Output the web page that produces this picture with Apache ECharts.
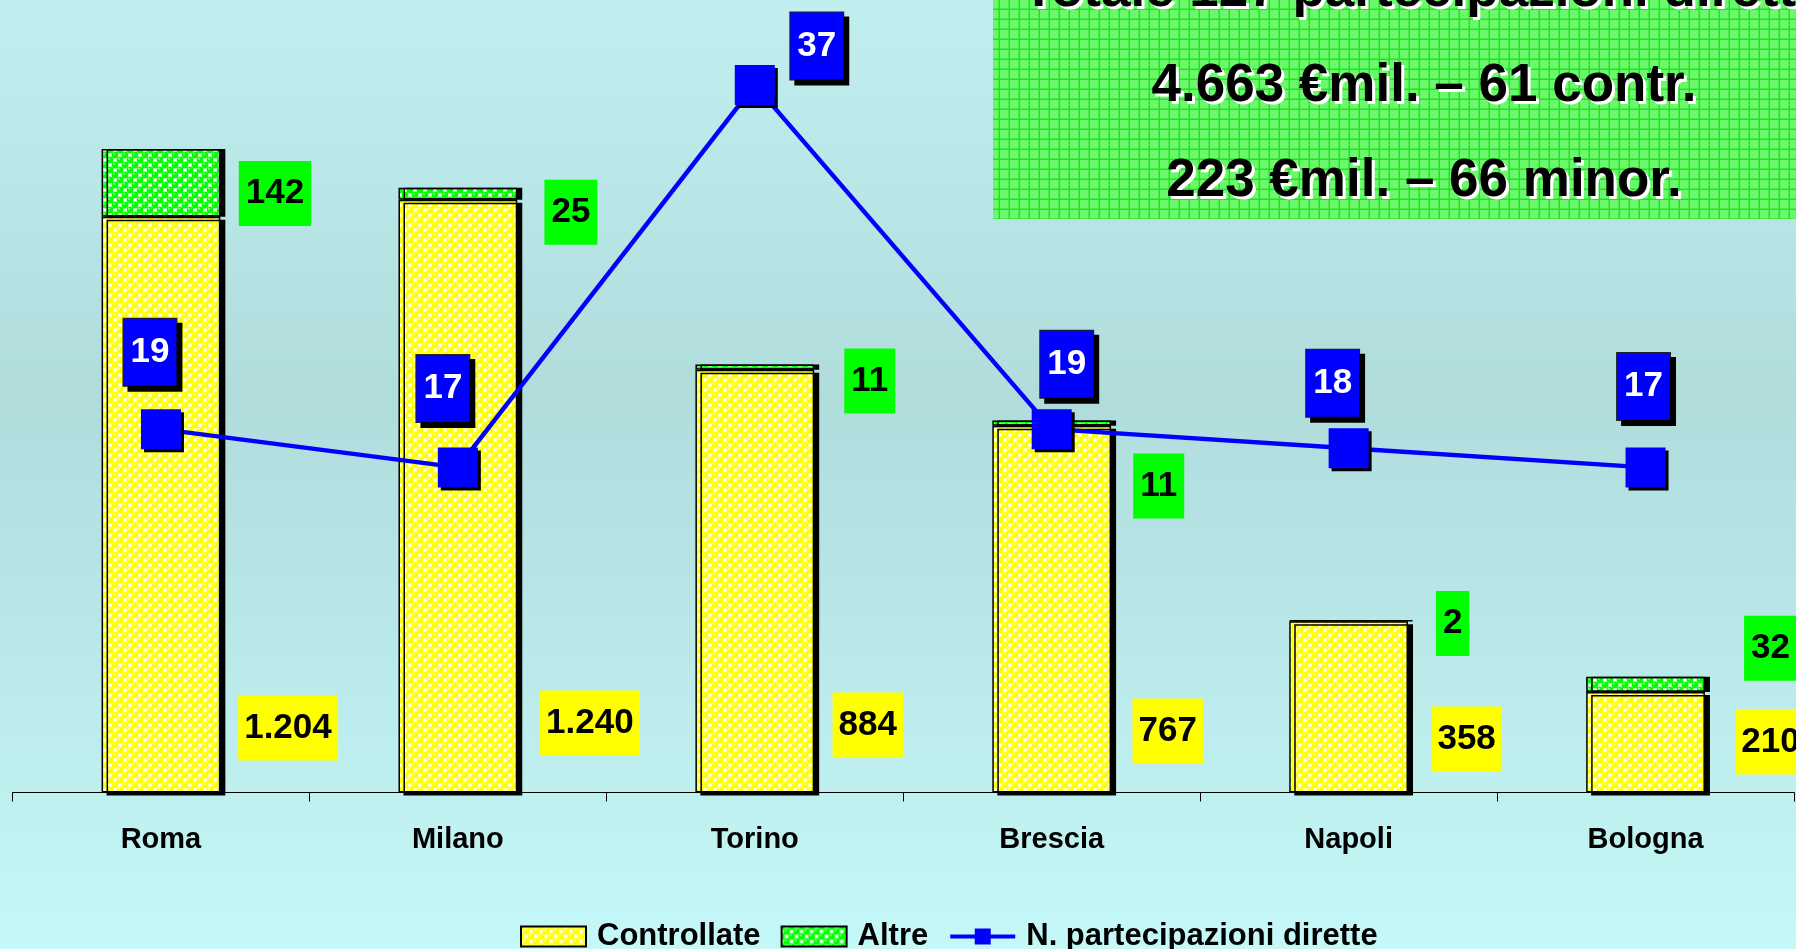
<!DOCTYPE html>
<html>
<head>
<meta charset="utf-8">
<script src="https://cdn.jsdelivr.net/npm/echarts@6/dist/echarts.min.js"></script>
<style>
html, body { margin: 0; padding: 0; }
#chart { width: 1796px; height: 949px; }
</style>
</head>
<body>
<div id="chart"></div>
<script>
// data
const categories = ['Roma', 'Milano', 'Torino', 'Brescia', 'Napoli', 'Bologna'];
const controllate = [1204, 1240, 884, 767, 358, 210];
const altre = [142, 25, 11, 11, 2, 32];
const partecipazioni = [19, 17, 37, 19, 18, 17];
const boxLines = ['Totale 127 partecipazioni dirette', '4.663 €mil. – 61 contr.', '223 €mil. – 66 minor.'];

// hand-placed label offsets (px)
const ctrlLabelOffset = [[127, -32], [132, -37], [113, -35], [116, -29], [118, -21], [125, -18]];
const altreLabelOffset = [[114, 12], [113, -8], [115, -16], [107, 33], [104, -29], [125, -61]];
const lineLabelOffset = [[-11, -77], [-15, -79], [62, -39], [15, -65], [-16, -65], [-2, -81]];

const FONT = '"Liberation Sans", Arial, sans-serif';

function dotPattern(fg) {
    const c = document.createElement('canvas');
    c.width = 10; c.height = 10;
    const ctx = c.getContext('2d');
    ctx.fillStyle = '#ffffff';
    ctx.fillRect(0, 0, 10, 10);
    [[5, 5], [0, 0], [10, 0], [0, 10], [10, 10]].forEach(([x, y]) => {
        ctx.fillStyle = fg;
        ctx.beginPath(); ctx.arc(x, y, 3.4, 0, Math.PI * 2); ctx.fill();
        ctx.fillStyle = 'rgba(255,255,255,0.6)';
        ctx.beginPath(); ctx.arc(x - 1, y - 1.3, 1, 0, Math.PI * 2); ctx.fill();
    });
    return c;
}

function gridPattern() {
    const c = document.createElement('canvas');
    c.width = 10; c.height = 10;
    const ctx = c.getContext('2d');
    ctx.fillStyle = '#6cf86c';
    ctx.fillRect(0, 0, 10, 10);
    ctx.fillStyle = '#1ee61e';
    ctx.fillRect(8.5, 0, 1.5, 10);
    ctx.fillRect(0, 8.5, 10, 1.5);
    return c;
}

function itNum(v) {
    return String(v).replace(/\B(?=(\d{3})+(?!\d))/g, '.');
}

const chart = echarts.init(document.getElementById('chart'));

const barStyle = (fg) => ({
    color: { image: dotPattern(fg), repeat: 'repeat' },
    borderColor: '#000',
    borderWidth: 1.5,
    shadowColor: '#000',
    shadowBlur: 0,
    shadowOffsetX: 5,
    shadowOffsetY: 3
});

const valueLabel = {
    show: true,
    color: '#000',
    fontSize: 35,
    fontWeight: 'bold',
    fontFamily: FONT,
    lineHeight: 41,
    padding: [12, 6],
    distance: 0,
    formatter: (p) => itNum(p.value)
};

// text box lines: white copy underneath as the drop shadow
const boxText = [];
boxLines.forEach((t, i) => {
    [['#fff', 3], ['#000', 0]].forEach(([col, d]) => {
        boxText.push({
            type: 'text',
            x: 1424 + d,
            y: -9 + i * 95 + d,
            z: 2,
            style: {
                text: t,
                font: 'bold 53px ' + FONT,
                fill: col,
                align: 'center', textAlign: 'center',
                verticalAlign: 'middle', textVerticalAlign: 'middle'
            }
        });
    });
});

const option = {
    animation: false,
    backgroundColor: {
        type: 'linear', x: 0, y: 0, x2: 0, y2: 1,
        colorStops: [
            { offset: 0, color: '#c1efef' },
            { offset: 0.42, color: '#b0dcdc' },
            { offset: 1, color: '#c5f8f8' }
        ]
    },
    textStyle: { fontFamily: FONT },
    grid: { left: 12.5, right: 2, top: 27.5, bottom: 156.5, containLabel: false, outerBoundsMode: 'none' },
    legend: {
        left: 515,
        top: 916,
        itemWidth: 65,
        itemHeight: 20,
        itemGap: 20,
        lineStyle: { width: 4 },
        textStyle: { fontSize: 31, fontWeight: 'bold', color: '#000', fontFamily: FONT, padding: [0, 0, 0, 6] },
        data: [
            { name: 'Controllate', icon: 'rect' },
            { name: 'Altre', icon: 'rect' },
            'N. partecipazioni dirette'
        ]
    },
    xAxis: {
        type: 'category',
        data: categories,
        axisLine: { show: true, lineStyle: { color: '#000', width: 1 } },
        axisTick: { show: true, length: 9, interval: 0, lineStyle: { color: '#000', width: 1 } },
        axisLabel: { margin: 33, fontSize: 29, fontWeight: 'bold', color: '#000', fontFamily: FONT }
    },
    yAxis: [
        { type: 'value', min: 0, max: 1600, show: false, splitLine: { show: false } },
        { type: 'value', min: 0, max: 40, show: false, splitLine: { show: false } }
    ],
    graphic: [
        {
            type: 'rect',
            shape: { x: 993, y: -10, width: 820, height: 229 },
            style: { fill: { image: gridPattern(), repeat: 'repeat' } },
            z: 1
        }
    ].concat(boxText),
    series: [
        {
            name: 'Controllate',
            type: 'bar',
            stack: 'tot',
            barWidth: '40%',
            itemStyle: barStyle('#ffff00'),
            label: Object.assign({}, valueLabel, { position: 'insideBottom', backgroundColor: '#ffff00' }),
            data: controllate.map((v, i) => ({ value: v, label: { offset: ctrlLabelOffset[i] } }))
        },
        {
            name: 'Altre',
            type: 'bar',
            stack: 'tot',
            barWidth: '40%',
            itemStyle: Object.assign(barStyle('#00ff00'), { shadowOffsetY: 0 }),
            label: Object.assign({}, valueLabel, { position: 'insideTop', backgroundColor: '#00ff00', padding: [12, 7] }),
            data: altre.map((v, i) => ({ value: v, label: { offset: altreLabelOffset[i] } }))
        },
        {
            name: 'N. partecipazioni dirette',
            type: 'line',
            yAxisIndex: 1,
            symbol: 'rect',
            symbolSize: 40,
            lineStyle: { color: '#0000ff', width: 4.5 },
            itemStyle: {
                color: '#0000ff',
                shadowColor: '#000',
                shadowBlur: 0,
                shadowOffsetX: 3,
                shadowOffsetY: 3
            },
            label: {
                show: true,
                position: 'inside',
                color: '#fff',
                fontSize: 35,
                fontWeight: 'bold',
                fontFamily: FONT,
                lineHeight: 41,
                padding: [13, 7],
                backgroundColor: '#0000ff',
                borderColor: '#222',
                borderWidth: 1,
                shadowColor: '#000',
                shadowBlur: 0,
                shadowOffsetX: 5,
                shadowOffsetY: 5
            },
            data: partecipazioni.map((v, i) => ({ value: v, label: { offset: lineLabelOffset[i] } })),
            z: 3
        }
    ]
};

chart.setOption(option);
</script>
</body>
</html>
